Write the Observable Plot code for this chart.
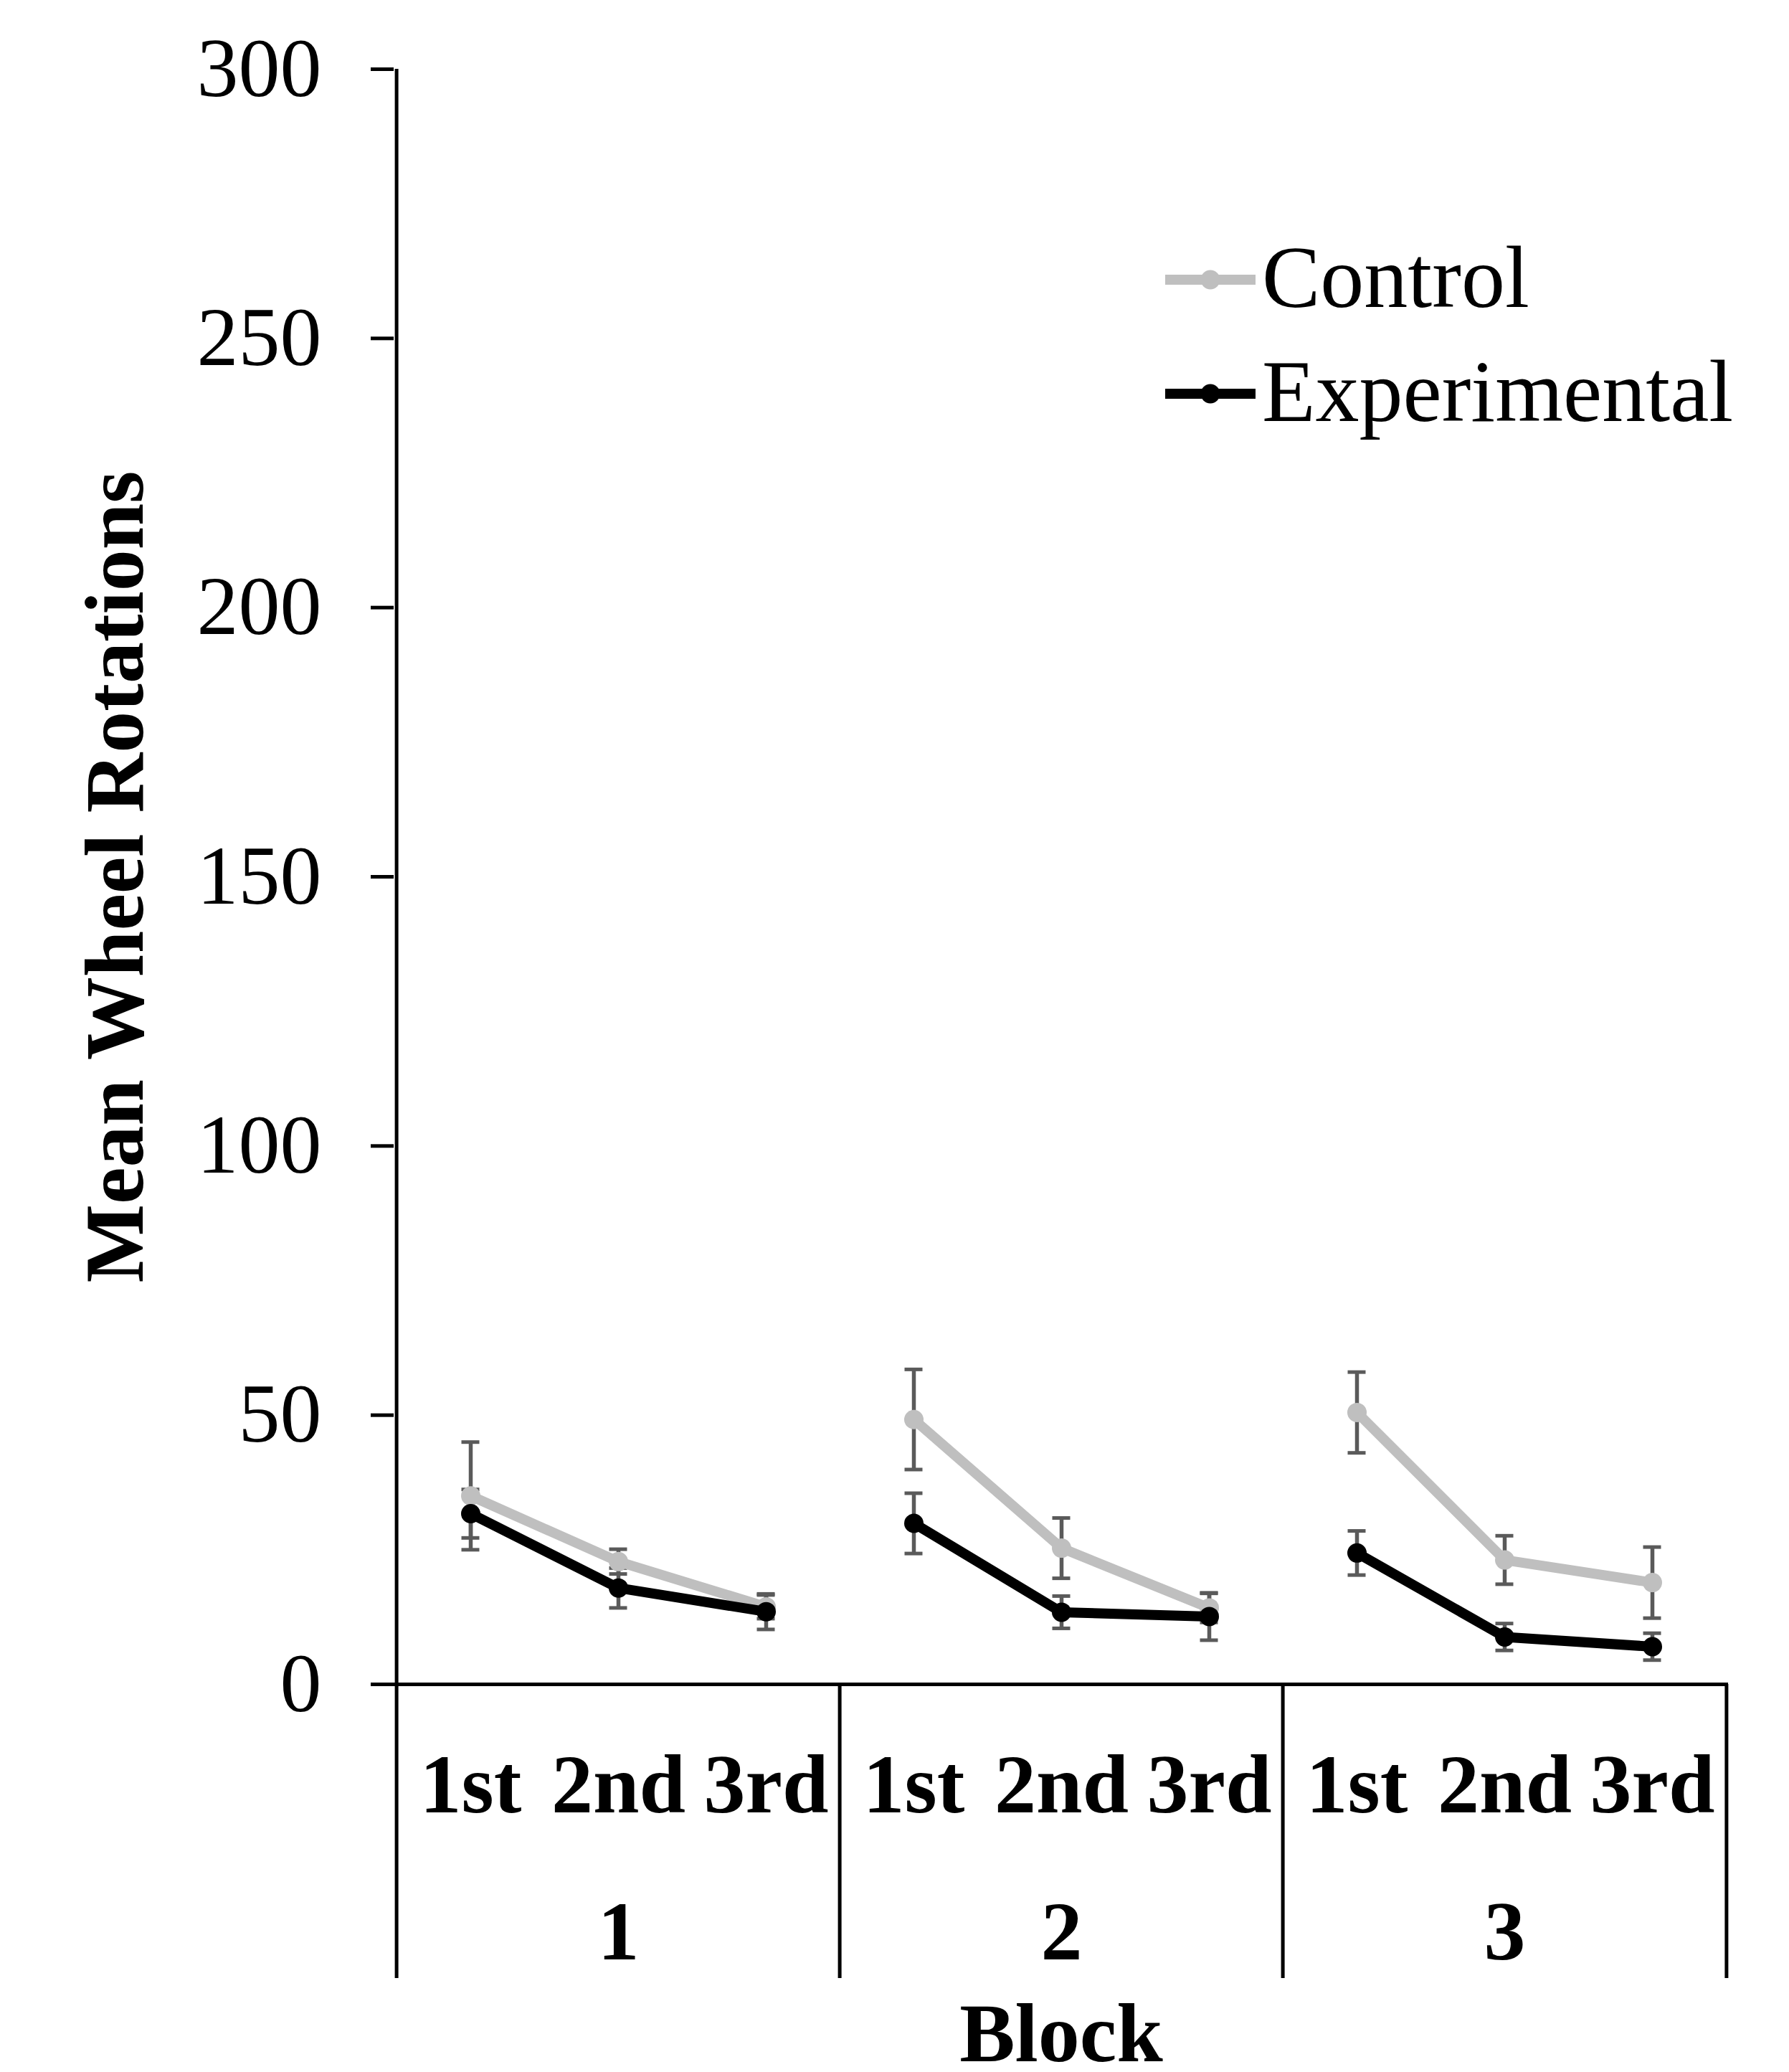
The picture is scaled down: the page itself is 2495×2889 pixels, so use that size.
<!DOCTYPE html>
<html>
<head>
<meta charset="utf-8">
<script src="https://cdn.jsdelivr.net/npm/d3@7"></script>
<script src="https://cdn.jsdelivr.net/npm/@observablehq/plot@0.6"></script>
<style>
  html, body { margin: 0; padding: 0; background: #ffffff; }
  #wrap { position: relative; width: 2495px; height: 2889px; font-family: 'Liberation Serif', 'Times New Roman', serif; }
  .leg { position: absolute; display: flex; align-items: flex-start; height: 122px; font-size: 122px; line-height: 122px; color: #000; white-space: nowrap; }
  .leg svg { display: block; margin-right: 9px; }
</style>
</head>
<body>
<div id="wrap"></div>
<script>
// ---- data ----
const blocks = ["1", "2", "3"];
const trials = ["1st", "2nd", "3rd"];
const seriesNames = ["Control", "Experimental"];
const seriesColors = ["#BFBFBF", "#000000"];
const controlMean = [35.0, 22.8, 14.4, 49.2, 25.3, 14.2, 50.5, 23.1, 18.9];
const controlErr = [10.0, 2.3, 2.2, 9.3, 5.6, 2.7, 7.5, 4.5, 6.6];
const experimentalMean = [31.7, 17.9, 13.5, 29.9, 13.4, 12.6, 24.4, 8.8, 7.0];
const experimentalErr = [4.5, 3.7, 3.3, 5.6, 3.0, 4.4, 4.1, 2.5, 2.5];
const yTicks = [0, 50, 100, 150, 200, 250, 300];
const yTitle = "Mean Wheel Rotations";
const xTitle = "Block";

// ---- build table ----
const keys = [];
blocks.forEach(b => trials.forEach(t => keys.push(b + "|" + t)));
const rows = [];
[controlMean, experimentalMean].forEach((means, s) => {
  const errs = s === 0 ? controlErr : experimentalErr;
  keys.forEach((k, i) => {
    rows.push({series: seriesNames[s], key: k, block: k.split("|")[0], mean: means[i], err: errs[i]});
  });
});

const W = 2495, H = 2889;
const mL = 549, mR = 85, mT = 96, mB = 541;
const step = (W - mL - mR) / keys.length;
const fs = 116;
const errColor = "#5a5a5a";

const seriesMarks = [];
seriesNames.forEach((name, s) => {
  const data = rows.filter(d => d.series === name);
  seriesMarks.push(
    Plot.ruleX(data, {x: "key", y1: d => d.mean - d.err, y2: d => d.mean + d.err, stroke: errColor, strokeWidth: 5.5}),
    Plot.ruleY(data, {x1: "key", x2: "key", y: d => d.mean - d.err, stroke: errColor, strokeWidth: 5, insetLeft: -12.5, insetRight: -12.5}),
    Plot.ruleY(data, {x1: "key", x2: "key", y: d => d.mean + d.err, stroke: errColor, strokeWidth: 5, insetLeft: -12.5, insetRight: -12.5})
  );
});
seriesNames.forEach((name, s) => {
  const data = rows.filter(d => d.series === name);
  seriesMarks.push(
    Plot.line(data, {x: "key", y: "mean", z: "block", stroke: seriesColors[s], strokeWidth: 14, strokeLinejoin: "round", strokeLinecap: "butt"}),
    Plot.dot(data, {x: "key", y: "mean", r: 13.5, fill: seriesColors[s], stroke: "none"})
  );
});

const blockFirst = blocks.map(b => b + "|" + trials[0]);
const blockMid = blocks.map(b => b + "|" + trials[1]);
const lastKey = keys[keys.length - 1];

const chart = Plot.plot({
  width: W,
  height: H,
  marginLeft: mL,
  marginRight: mR,
  marginTop: mT,
  marginBottom: mB,
  style: {fontFamily: "'Liberation Serif', 'Times New Roman', serif", fontSize: fs + "px", background: "#ffffff", color: "#000000"},
  x: {type: "point", domain: keys, padding: 0.5, align: 0.5},
  y: {domain: [0, 300]},
  marks: [
    Plot.axisY({ticks: yTicks, tickSize: 32, tickPadding: 69, strokeWidth: 5, fontSize: fs, tickFormat: d => String(d), label: null}),
    Plot.axisX({tickSize: 0, tickPadding: 96, fontSize: fs, fontWeight: "bold", tickFormat: k => k.split("|")[1], label: null}),
    // y axis line plus first divider
    Plot.ruleX([blockFirst[0]], {x: d => d, dx: -step / 2, y1: 300, y2: 0, insetBottom: -410, stroke: "#000", strokeWidth: 5}),
    // other block dividers
    Plot.ruleX(blockFirst.slice(1), {x: d => d, dx: -step / 2, y1: 0, y2: 0, insetBottom: -410, stroke: "#000", strokeWidth: 5}),
    Plot.ruleX([lastKey], {x: d => d, dx: step / 2, y1: 0, y2: 0, insetBottom: -410, stroke: "#000", strokeWidth: 5}),
    Plot.ruleY([0], {stroke: "#000", strokeWidth: 5}),
    ...seriesMarks,
    Plot.text(blocks, {x: (b, i) => blockMid[i], frameAnchor: "bottom", lineAnchor: "top", dy: 301, fontSize: fs, fontWeight: "bold", text: d => d}),
    Plot.text([xTitle], {frameAnchor: "bottom", textAnchor: "middle", lineAnchor: "top", dy: 443, fontSize: fs, fontWeight: "bold", text: d => d}),
    Plot.text([yTitle], {frameAnchor: "left", textAnchor: "middle", lineAnchor: "middle", rotate: -90, dx: -388, fontSize: fs, fontWeight: "bold", text: d => d})
  ]
});

const wrap = document.getElementById("wrap");
wrap.appendChild(chart);

// ---- legend ----
const legTops = [326, 485];
seriesNames.forEach((name, s) => {
  const div = document.createElement("div");
  div.className = "leg";
  div.style.left = "1625px";
  div.style.top = legTops[s] + "px";
  const ns = "http://www.w3.org/2000/svg";
  const svg = document.createElementNS(ns, "svg");
  svg.setAttribute("width", 126);
  svg.setAttribute("height", 122);
  const line = document.createElementNS(ns, "line");
  line.setAttribute("x1", 0); line.setAttribute("x2", 126);
  line.setAttribute("y1", 64); line.setAttribute("y2", 64);
  line.setAttribute("stroke", seriesColors[s]);
  line.setAttribute("stroke-width", 14);
  line.setAttribute("stroke-linecap", "round");
  svg.appendChild(line);
  const c = document.createElementNS(ns, "circle");
  c.setAttribute("cx", 63); c.setAttribute("cy", 64); c.setAttribute("r", 13.5);
  c.setAttribute("fill", seriesColors[s]);
  svg.appendChild(c);
  div.appendChild(svg);
  const span = document.createElement("span");
  span.textContent = name;
  div.appendChild(span);
  wrap.appendChild(div);
});
</script>
</body>
</html>
